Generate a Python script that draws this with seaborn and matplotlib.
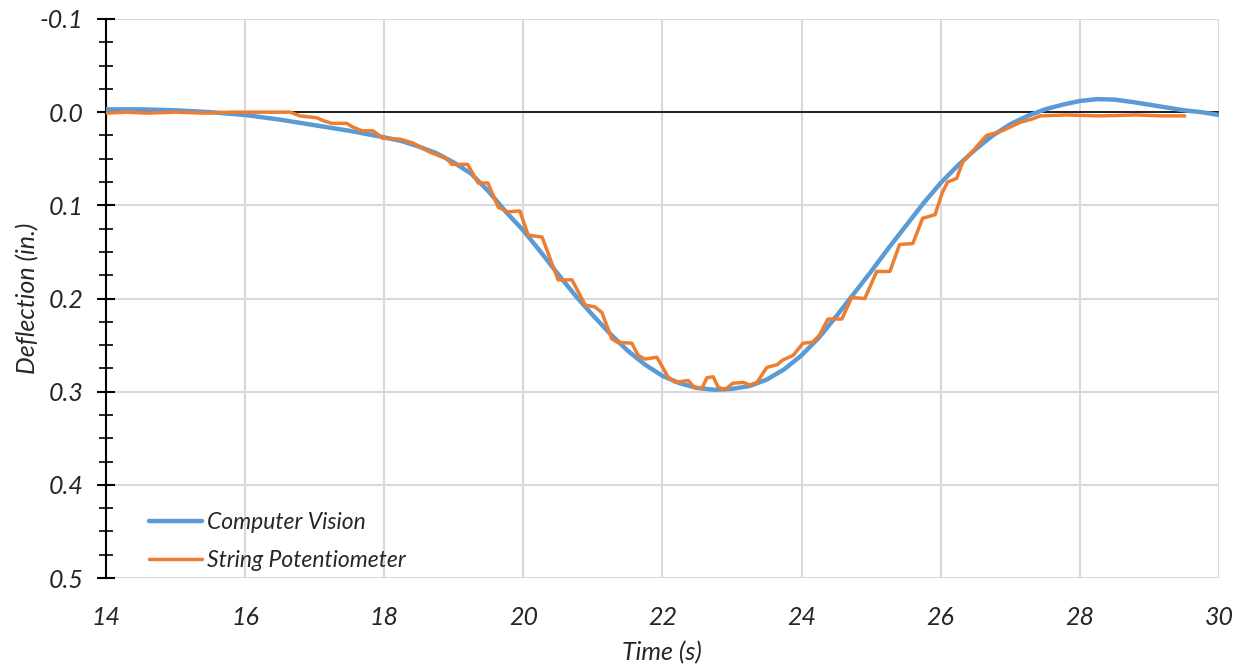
import seaborn as sns
import matplotlib.pyplot as plt
import matplotlib.ticker as mticker
import pandas as pd

# Computer Vision (smooth) trace
cv_time = [14.0, 14.5, 15.0, 15.5, 16.0, 16.5, 17.0, 17.5, 18.0, 18.25, 18.5, 18.75,
           19.0, 19.25, 19.5, 19.75, 20.0, 20.25, 20.5, 20.75, 21.0, 21.25, 21.5, 21.75,
           22.0, 22.25, 22.5, 22.75, 23.0, 23.25, 23.5, 23.75, 24.0, 24.25, 24.5, 24.75,
           25.0, 25.25, 25.5, 25.75, 26.0, 26.25, 26.5, 26.75, 27.0, 27.25, 27.5, 27.75,
           28.0, 28.25, 28.5, 28.75, 29.0, 29.25, 29.5, 29.75, 30.0]
cv_defl = [-0.003, -0.003, -0.002, 0.000, 0.003, 0.008, 0.014, 0.020, 0.027, 0.031, 0.037, 0.044,
           0.054, 0.066, 0.085, 0.107, 0.127, 0.150, 0.174, 0.197, 0.218, 0.238, 0.256, 0.271,
           0.283, 0.291, 0.296, 0.298, 0.297, 0.294, 0.287, 0.276, 0.261, 0.242, 0.219, 0.195,
           0.171, 0.146, 0.122, 0.098, 0.076, 0.057, 0.040, 0.025, 0.013, 0.004, -0.003, -0.008,
           -0.012, -0.014, -0.0135, -0.011, -0.008, -0.005, -0.002, 0.000, 0.003]

# String Potentiometer (stepped) trace
sp_time = [14.0, 14.3, 14.6, 15.0, 15.4, 15.8, 16.2, 16.65, 16.79, 17.03, 17.12, 17.25,
           17.46, 17.55, 17.68, 17.84, 17.98, 18.23, 18.41, 18.66, 18.9, 18.97, 19.2, 19.35,
           19.49, 19.64, 19.78, 19.95, 20.07, 20.27, 20.43, 20.5, 20.7, 20.89, 21.03, 21.13,
           21.27, 21.35, 21.56, 21.65, 21.75, 21.92, 22.08, 22.18, 22.37, 22.47, 22.57, 22.64,
           22.73, 22.8, 22.9, 23.01, 23.16, 23.26, 23.36, 23.5, 23.65, 23.73, 23.88, 24.02,
           24.16, 24.26, 24.38, 24.58, 24.72, 24.91, 25.08, 25.27, 25.41, 25.6, 25.74, 25.92,
           26.02, 26.1, 26.23, 26.32, 26.45, 26.54, 26.66, 26.85, 27.0, 27.14, 27.33, 27.43,
           27.8, 28.3, 28.8, 29.2, 29.51]
sp_defl = [0.001, 0.000, 0.001, 0.000, 0.001, 0.000, 0.000, 0.000, 0.004, 0.006, 0.009, 0.012,
           0.012, 0.016, 0.020, 0.020, 0.028, 0.029, 0.033, 0.043, 0.050, 0.056, 0.056, 0.076,
           0.076, 0.102, 0.107, 0.106, 0.132, 0.134, 0.166, 0.180, 0.180, 0.207, 0.209, 0.215,
           0.243, 0.247, 0.248, 0.261, 0.265, 0.263, 0.284, 0.290, 0.288, 0.296, 0.296, 0.285,
           0.284, 0.295, 0.298, 0.291, 0.290, 0.293, 0.290, 0.274, 0.271, 0.266, 0.261, 0.248,
           0.247, 0.239, 0.222, 0.222, 0.199, 0.200, 0.171, 0.171, 0.142, 0.141, 0.114, 0.110,
           0.087, 0.075, 0.071, 0.053, 0.043, 0.035, 0.025, 0.021, 0.016, 0.011, 0.007, 0.004,
           0.003, 0.004, 0.003, 0.004, 0.004]

cv = pd.DataFrame({'time': cv_time, 'defl': cv_defl})
sp = pd.DataFrame({'time': sp_time, 'defl': sp_defl})

sns.set_theme(style="white")
plt.rcParams['font.family'] = ['Lato', 'DejaVu Sans']
plt.rcParams['font.style'] = 'italic'
plt.rcParams['axes.unicode_minus'] = False

fig = plt.figure(figsize=(12.44, 6.69), dpi=100)
ax = fig.add_axes([0.0852, 0.136, 0.8946, 0.8356])

# gray grid first, then the zero line, then the data
ax.set_xlim(14, 30)
ax.set_ylim(0.5, -0.1)
ax.xaxis.set_major_locator(mticker.MultipleLocator(2))
ax.yaxis.set_major_locator(mticker.MultipleLocator(0.1))
ax.yaxis.set_minor_locator(mticker.MultipleLocator(0.025))
ax.yaxis.set_major_formatter(mticker.FormatStrFormatter('%.1f'))
ax.grid(True, which='major', color='#D9D9D9', linewidth=1.5)
ax.set_axisbelow(True)
ax.axhline(0, color='black', linewidth=1.2, zorder=2)

sns.lineplot(data=cv, x='time', y='defl', color='#5B9BD5', linewidth=3.2,
             sort=False, estimator=None, label='Computer Vision', ax=ax, zorder=3)
sns.lineplot(data=sp, x='time', y='defl', color='#ED7D31', linewidth=2.5,
             sort=False, estimator=None, label='String Potentiometer', ax=ax, zorder=4)

for side in ['top', 'right', 'bottom']:
    ax.spines[side].set_visible(False)
ax.spines['left'].set_color('black')
ax.spines['left'].set_linewidth(1.5)

ax.tick_params(axis='y', which='major', direction='inout', length=12.5, width=1.5,
               color='black', left=True, pad=10, labelsize=18)
ax.tick_params(axis='y', which='minor', direction='inout', length=9.5, width=1.2,
               color='black', left=True)
ax.tick_params(axis='x', which='major', length=0, pad=20, labelsize=18)

ax.set_xlabel('Time (s)', fontsize=18, labelpad=9)
ax.set_ylabel('Deflection (in.)', fontsize=18, labelpad=0)

ax.legend(loc='lower left', bbox_to_anchor=(0.02, -0.025), frameon=False,
          fontsize=16.5, handlelength=2.3, labelspacing=0.75, handletextpad=0.25)

plt.savefig('out.png', dpi=100)
